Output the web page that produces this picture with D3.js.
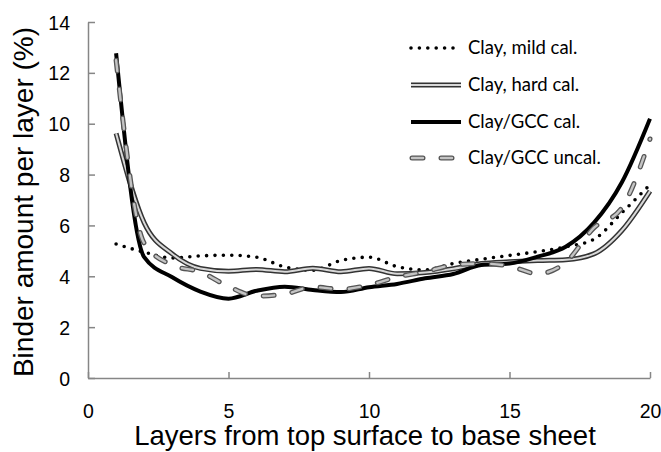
<!DOCTYPE html>
<html>
<head>
<meta charset="utf-8">
<script src="https://cdn.jsdelivr.net/npm/d3@7"></script>
<style>
  body { margin: 0; background: #fff; }
  svg { display: block; }
  .tick text { font-family: "Liberation Sans", Arial, sans-serif; font-size: 19.5px; fill: #000; }
</style>
</head>
<body>
<svg id="chart" width="661" height="452"></svg>
<script>
// layer number (x) and binder amount per layer (%)
let layers = [1,2,3,4,5,6,7,8,9,10,11,12,13,14,15,16,17,18,19,20];
let mildCal  = [5.27,4.95,4.72,4.80,4.83,4.75,4.37,4.24,4.62,4.75,4.38,4.25,4.50,4.67,4.82,4.97,5.16,5.45,6.50,7.60];
let hardCal  = [9.62,6.10,4.88,4.31,4.20,4.27,4.18,4.32,4.18,4.31,4.10,4.15,4.30,4.50,4.57,4.62,4.65,4.88,5.80,7.35];
let gccCal   = [12.77,4.75,3.96,3.40,3.12,3.43,3.59,3.46,3.38,3.57,3.70,3.92,4.09,4.44,4.50,4.77,5.16,6.10,7.70,10.20];
let gccUncal = [12.50,5.30,4.44,4.17,3.60,3.22,3.30,3.58,3.49,3.66,3.97,4.18,4.44,4.50,4.40,4.10,4.55,5.90,6.70,9.40];
let seriesNames = ["Clay, mild cal.", "Clay, hard cal.", "Clay/GCC cal.", "Clay/GCC uncal."];
let xTicks = [0,5,10,15,20];
let yTicks = [0,2,4,6,8,10,12,14];

let axisColor = "#868686";
let svg = d3.select("#chart");

let x = d3.scaleLinear().domain([0,20]).range([88,650]);
let y = d3.scaleLinear().domain([0,14]).range([378,22]);

// axes
let xAxis = svg.append("g")
  .attr("transform","translate(0,378)")
  .call(d3.axisBottom(x).tickValues(xTicks).tickSizeInner(-6).tickSizeOuter(0).tickPadding(26));
let yAxis = svg.append("g")
  .attr("transform","translate(88,0)")
  .call(d3.axisLeft(y).tickValues(yTicks).tickSizeInner(-7).tickSizeOuter(0).tickPadding(18));
[xAxis, yAxis].forEach(function(a){
  a.select(".domain").attr("stroke", axisColor).attr("stroke-width", 1.5);
  a.selectAll(".tick line").attr("stroke", axisColor).attr("stroke-width", 1.5);
});
yAxis.selectAll(".tick text").attr("dy","0.36em");

// axis titles
svg.append("text")
  .attr("x", 365).attr("y", 445)
  .attr("text-anchor","middle")
  .style("font-family","'Liberation Sans', Arial, sans-serif")
  .style("font-size","27.5px")
  .text("Layers from top surface to base sheet");
svg.append("text")
  .attr("transform","translate(33,202) rotate(-90)")
  .attr("text-anchor","middle")
  .style("font-family","'Liberation Sans', Arial, sans-serif")
  .style("font-size","28px")
  .text("Binder amount per layer (%)");

let line = d3.line()
  .x(function(d,i){ return x(layers[i]) })
  .y(function(d){ return y(d) })
  .curve(d3.curveMonotoneX);

// line styles, one function per series so legend and plot share them
function drawMild(g, path){
  g.append("path").attr("d", path).attr("fill","none")
    .attr("stroke","#000").attr("stroke-width",3.6)
    .attr("stroke-linecap","round").attr("stroke-dasharray","0 8.4");
}
function drawHard(g, path){
  g.append("path").attr("d", path).attr("fill","none")
    .attr("stroke","#333").attr("stroke-width",5);
  g.append("path").attr("d", path).attr("fill","none")
    .attr("stroke","#d8d8d8").attr("stroke-width",2);
}
function drawGcc(g, path){
  g.append("path").attr("d", path).attr("fill","none")
    .attr("stroke","#000").attr("stroke-width",4);
}
function drawUncal(g, path){
  g.append("path").attr("d", path).attr("fill","none")
    .attr("stroke","#555").attr("stroke-width",5)
    .attr("stroke-linecap","round").attr("stroke-dasharray","11 18");
  g.append("path").attr("d", path).attr("fill","none")
    .attr("stroke","#c4c4c4").attr("stroke-width",2.4)
    .attr("stroke-linecap","round").attr("stroke-dasharray","11 18");
}
let styles = [drawMild, drawHard, drawGcc, drawUncal];
let allSeries = [mildCal, hardCal, gccCal, gccUncal];

let plot = svg.append("g");
allSeries.forEach(function(s, i){
  styles[i](plot.append("g"), line(s));
});

// legend
let legend = svg.append("g");
let rowY = [48, 85, 122, 158];
seriesNames.forEach(function(name, i){
  let row = legend.append("g");
  let x0 = i == 3 ? 412 : 411;
  styles[i](row, "M" + x0 + "," + rowY[i] + "L461," + rowY[i]);
  row.append("text")
    .attr("x", 468).attr("y", rowY[i]).attr("dy","0.35em")
    .style("font-family","Lato, 'Open Sans', sans-serif")
    .style("font-size","18.5px")
    .text(name);
});
</script>
</body>
</html>
